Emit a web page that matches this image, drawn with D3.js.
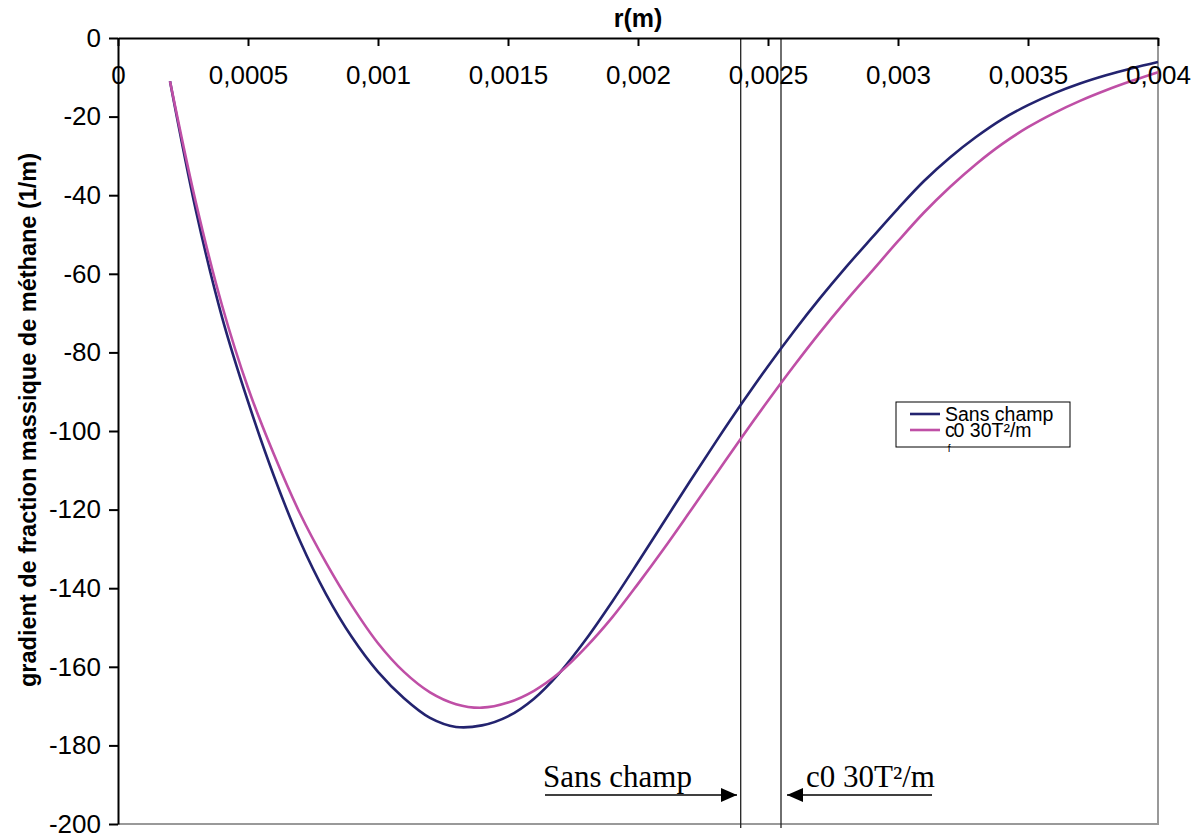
<!DOCTYPE html>
<html lang="fr">

<head>
  <title></title>
  <meta charset="UTF-8">
  <style>
    body {
      margin: 0;
      background: #fff;
    }
    text {
      font-family: "Liberation Sans", Arial, sans-serif;
    }
  </style>
</head>

<body>
  <div id="container"></div>
  <script src="https://cdn.jsdelivr.net/npm/d3@7"></script>
  <script>
    // r (m)
    const radius = [0.0002, 0.0003, 0.0004, 0.0005, 0.0006, 0.0007, 0.0008, 0.0009, 0.001, 0.0011,
      0.0012, 0.0013, 0.0014, 0.0015, 0.0016, 0.0017, 0.0018, 0.0019, 0.002, 0.0021,
      0.0022, 0.0023, 0.0024, 0.0025, 0.0026, 0.0027, 0.0028, 0.0029, 0.003, 0.0031,
      0.0032, 0.0033, 0.0034, 0.0035, 0.0036, 0.0037, 0.0038, 0.0039, 0.004];
    // gradient de fraction massique, sans champ
    const sansChamp = [-11, -44, -71, -92.5, -111.5, -128, -141.5, -152.5, -161.3, -168,
      -173, -175.3, -174.9, -172.6, -168.1, -161.4, -153, -143.5, -133.4, -123.1,
      -112.8, -102.7, -92.9, -83.5, -74.6, -66.2, -58.3, -50.8, -43.4, -36.4,
      -30.4, -25.2, -20.7, -17.1, -14.1, -11.6, -9.5, -7.7, -6.1];
    // avec champ c0 30T²/m
    const avecChamp = [-11, -42, -68, -89, -106, -121, -133.5, -144.5, -154, -161.3,
      -166.5, -169.5, -170.4, -169.1, -166.1, -161.4, -155, -147.5, -138.9, -129.9,
      -120.5, -111, -101.5, -92.3, -83.4, -74.9, -66.9, -59.3, -51.7, -44.4,
      -37.9, -32.1, -27, -22.7, -19.1, -16, -13.3, -10.9, -8.7];
    const seriesNames = ['Sans champ', 'c0 30T²/m'];
    const seriesColors = ['#23236f', '#bf4fa6'];
    // positions of the two vertical markers (r)
    const markers = [0.002395, 0.00255];
    const xTicks = [0, 0.0005, 0.001, 0.0015, 0.002, 0.0025, 0.003, 0.0035, 0.004];
    const xTickLabels = ['0', '0,0005', '0,001', '0,0015', '0,002', '0,0025', '0,003', '0,0035', '0,004'];
    const yTicks = [0, -20, -40, -60, -80, -100, -120, -140, -160, -180, -200];
    const yTickLabels = ['0', '-20', '-40', '-60', '-80', '-100', '-120', '-140', '-160', '-180', '-200'];

    const W = 1193, H = 836;
    const plot = { left: 118, right: 1158, top: 38, bottom: 824 };

    const x = d3.scaleLinear().domain([0, 0.004]).range([plot.left, plot.right]);
    const y = d3.scaleLinear().domain([0, -200]).range([plot.top, plot.bottom]);

    const svg = d3.select('#container').append('svg')
      .attr('width', W)
      .attr('height', H);

    // plot area border (right / bottom, grey)
    svg.append('path')
      .attr('d', `M${plot.right},${plot.top}V${plot.bottom}H${plot.left}`)
      .attr('fill', 'none')
      .attr('stroke', '#999')
      .attr('stroke-width', 2);

    // vertical markers
    svg.selectAll('.marker').data(markers).enter().append('line')
      .attr('x1', d => x(d)).attr('x2', d => x(d))
      .attr('y1', plot.top).attr('y2', plot.bottom + 4)
      .attr('stroke', '#222')
      .attr('stroke-width', 1.3);

    // curves
    const line = d3.line()
      .x(d => x(d[0]))
      .y(d => y(d[1]))
      .curve(d3.curveCatmullRom);
    [sansChamp, avecChamp].forEach((vals, i) => {
      svg.append('path')
        .datum(radius.map((r, j) => [r, vals[j]]))
        .attr('d', line)
        .attr('fill', 'none')
        .attr('stroke', seriesColors[i])
        .attr('stroke-width', 2.6);
    });

    // axes
    const xAxis = d3.axisBottom(x)
      .tickValues(xTicks)
      .tickFormat((d, i) => xTickLabels[i])
      .tickSize(8)
      .tickSizeOuter(0)
      .tickPadding(20);
    const gx = svg.append('g')
      .attr('transform', `translate(0,${plot.top})`)
      .call(xAxis);

    const yAxis = d3.axisLeft(y)
      .tickValues(yTicks)
      .tickFormat((d, i) => yTickLabels[i])
      .tickSize(9)
      .tickSizeOuter(0)
      .tickPadding(8);
    const gy = svg.append('g')
      .attr('transform', `translate(${plot.left},0)`)
      .call(yAxis);

    [gx, gy].forEach(g => {
      g.select('.domain').attr('stroke', '#000').attr('stroke-width', 2);
      g.selectAll('.tick line').attr('stroke', '#000').attr('stroke-width', 2);
      g.selectAll('.tick text')
        .attr('fill', '#000')
        .style('font-family', '"Liberation Sans", Arial, sans-serif')
        .style('font-size', '26px');
    });

    // axis titles
    svg.append('text')
      .attr('x', 638).attr('y', 27)
      .attr('text-anchor', 'middle')
      .style('font-size', '25px')
      .style('font-weight', 'bold')
      .text('r(m)');
    svg.append('text')
      .attr('transform', 'translate(36,420) rotate(-90)')
      .attr('text-anchor', 'middle')
      .style('font-size', '23.5px')
      .style('font-weight', 'bold')
      .text('gradient de fraction massique de méthane (1/m)');

    // legend
    const lg = svg.append('g').attr('transform', 'translate(896,402)');
    lg.append('rect')
      .attr('width', 174).attr('height', 45)
      .attr('fill', '#fff')
      .attr('stroke', '#000')
      .attr('stroke-width', 1);
    seriesNames.forEach((name, i) => {
      lg.append('line')
        .attr('x1', 14).attr('x2', 44)
        .attr('y1', 12 + i * 16).attr('y2', 12 + i * 16)
        .attr('stroke', seriesColors[i])
        .attr('stroke-width', 2.6);
    });
    lg.append('text')
      .attr('x', 49).attr('y', 19)
      .style('font-size', '19.5px')
      .text(seriesNames[0]);
    const t2 = lg.append('text')
      .attr('x', 49).attr('y', 35)
      .style('font-size', '19.5px');
    t2.append('tspan').text('c');
    t2.append('tspan').attr('dx', -7).attr('dy', 15).style('font-size', '10px').text('f');
    t2.append('tspan').attr('dx', 3).attr('dy', -15).text('0 30T²/m');

    // annotations with arrows
    const defs = svg.append('defs');
    defs.append('marker')
      .attr('id', 'arrow')
      .attr('viewBox', '0 0 16 14')
      .attr('refX', 16).attr('refY', 7)
      .attr('markerWidth', 16).attr('markerHeight', 14)
      .attr('markerUnits', 'userSpaceOnUse')
      .attr('orient', 'auto')
      .append('path')
      .attr('d', 'M0,0L16,7L0,14Z')
      .attr('fill', '#000');

    svg.append('line')
      .attr('x1', 545).attr('x2', 737)
      .attr('y1', 795).attr('y2', 795)
      .attr('stroke', '#000').attr('stroke-width', 1.5)
      .attr('marker-end', 'url(#arrow)');
    svg.append('line')
      .attr('x1', 932).attr('x2', 787)
      .attr('y1', 795).attr('y2', 795)
      .attr('stroke', '#000').attr('stroke-width', 1.5)
      .attr('marker-end', 'url(#arrow)');

    svg.append('text')
      .attr('x', 543).attr('y', 787)
      .style('font-family', '"Liberation Serif", "Times New Roman", serif')
      .style('font-size', '31px')
      .text(seriesNames[0]);
    svg.append('text')
      .attr('x', 806).attr('y', 787)
      .style('font-family', '"Liberation Serif", "Times New Roman", serif')
      .style('font-size', '31px')
      .text(seriesNames[1]);
  </script>
</body>

</html>
